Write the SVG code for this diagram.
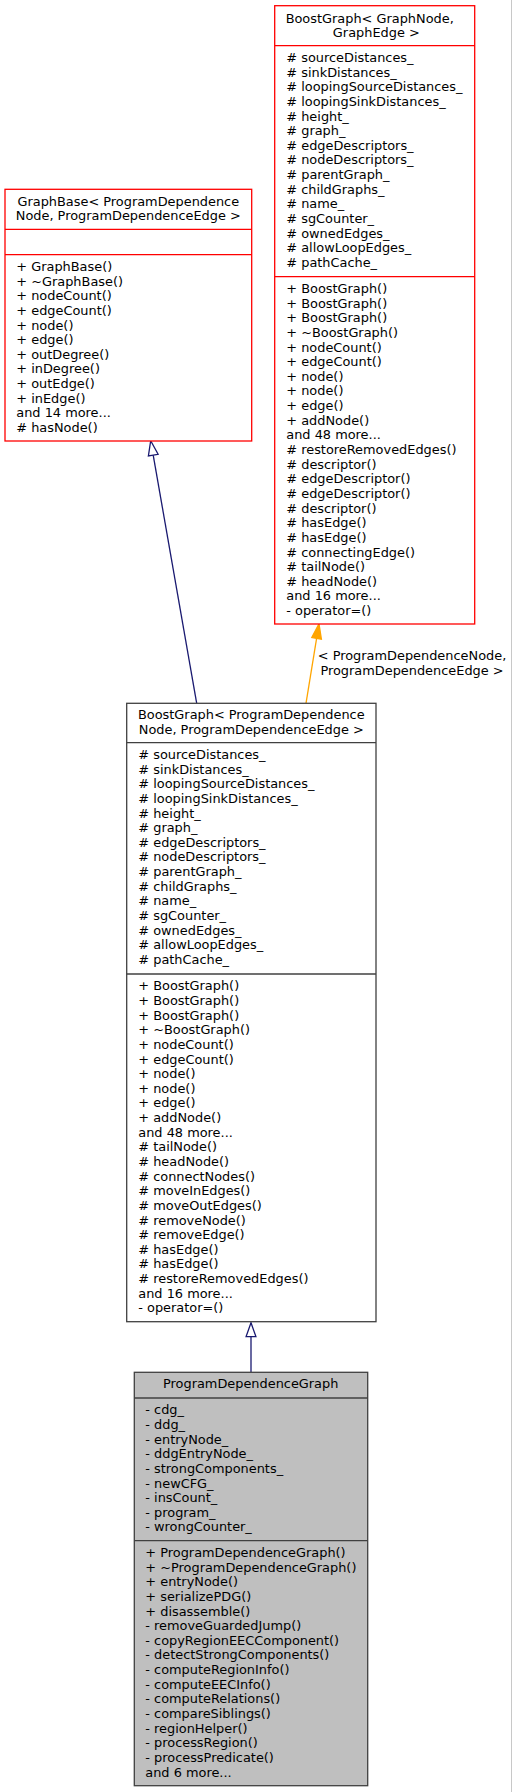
<svg xmlns="http://www.w3.org/2000/svg" width="513" height="1792" viewBox="0 0 513 1792">
<style>
text{font-family:"DejaVu Sans","Liberation Sans",sans-serif;font-size:12.9px;fill:#000}
.c{text-anchor:middle}
.red{fill:#fff;stroke:#ff0000;stroke-width:1.3}
.blk{fill:#fff;stroke:#404040;stroke-width:1.3}
.gry{fill:#bfbfbf;stroke:#404040;stroke-width:1.3}
.dr{stroke:#ff0000;stroke-width:1.3}
.dk{stroke:#404040;stroke-width:1.3}
.blue{fill:none;stroke:#191970;stroke-width:1.3}
.orange{fill:none;stroke:#ffa500;stroke-width:1.3}
</style>
<rect x="0" y="0" width="513" height="1792" fill="#fff"/>
<line x1="511.5" y1="0" x2="511.5" y2="1792" stroke="#c8c8c8" stroke-width="1"/>

<g id="connectors">
<path class="blue" d="M196.7,703.3 L153.2,455.1"/>
<polygon points="150.7,440.7 158.1,454.3 148.4,456" fill="#fff" stroke="#191970" stroke-width="1.3"/>
<path class="orange" d="M306,703.3 L316.6,638.4"/>
<polygon points="319,623.8 321.4,639.2 311.8,637.6" fill="#ffa500" stroke="#ffa500" stroke-width="1.3"/>
<text class="c" x="412" y="660">&lt; ProgramDependenceNode,</text>
<text class="c" x="412" y="674.6">ProgramDependenceEdge &gt;</text>
<path class="blue" d="M251,1372.3 L251,1336.6"/>
<polygon points="251,1322.7 255.9,1336.6 246.1,1336.6" fill="#fff" stroke="#191970" stroke-width="1.3"/>
</g>

<g id="node-graphbase">
<rect class="red" x="5" y="189.3" width="246.7" height="251.7"/>
<line class="dr" x1="5" y1="229.3" x2="251.7" y2="229.3"/>
<line class="dr" x1="5" y1="254.7" x2="251.7" y2="254.7"/>
<text class="c" x="128.3" y="205.7">GraphBase&lt; ProgramDependence</text>
<text class="c" x="128.3" y="220.3">Node, ProgramDependenceEdge &gt;</text>
<text x="16.3" y="271"><tspan x="16.3">+ GraphBase()</tspan><tspan x="16.3" dy="14.64">+ ~GraphBase()</tspan><tspan x="16.3" dy="14.64">+ nodeCount()</tspan><tspan x="16.3" dy="14.64">+ edgeCount()</tspan><tspan x="16.3" dy="14.64">+ node()</tspan><tspan x="16.3" dy="14.64">+ edge()</tspan><tspan x="16.3" dy="14.64">+ outDegree()</tspan><tspan x="16.3" dy="14.64">+ inDegree()</tspan><tspan x="16.3" dy="14.64">+ outEdge()</tspan><tspan x="16.3" dy="14.64">+ inEdge()</tspan><tspan x="16.3" dy="14.64">and 14 more...</tspan><tspan x="16.3" dy="14.64"># hasNode()</tspan></text>
</g>

<g id="node-boostgraph-graphnode">
<rect class="red" x="274.7" y="5.7" width="200" height="618.3"/>
<line class="dr" x1="274.7" y1="45.7" x2="474.7" y2="45.7"/>
<line class="dr" x1="274.7" y1="276.7" x2="474.7" y2="276.7"/>
<text class="c" x="369.7" y="22.5">BoostGraph&lt; GraphNode,</text>
<text class="c" x="376.3" y="37.1">GraphEdge &gt;</text>
<text x="286.3" y="62"><tspan x="286.3"># sourceDistances_</tspan><tspan x="286.3" dy="14.64"># sinkDistances_</tspan><tspan x="286.3" dy="14.64"># loopingSourceDistances_</tspan><tspan x="286.3" dy="14.64"># loopingSinkDistances_</tspan><tspan x="286.3" dy="14.64"># height_</tspan><tspan x="286.3" dy="14.64"># graph_</tspan><tspan x="286.3" dy="14.64"># edgeDescriptors_</tspan><tspan x="286.3" dy="14.64"># nodeDescriptors_</tspan><tspan x="286.3" dy="14.64"># parentGraph_</tspan><tspan x="286.3" dy="14.64"># childGraphs_</tspan><tspan x="286.3" dy="14.64"># name_</tspan><tspan x="286.3" dy="14.64"># sgCounter_</tspan><tspan x="286.3" dy="14.64"># ownedEdges_</tspan><tspan x="286.3" dy="14.64"># allowLoopEdges_</tspan><tspan x="286.3" dy="14.64"># pathCache_</tspan></text>
<text x="286.3" y="293"><tspan x="286.3">+ BoostGraph()</tspan><tspan x="286.3" dy="14.64">+ BoostGraph()</tspan><tspan x="286.3" dy="14.64">+ BoostGraph()</tspan><tspan x="286.3" dy="14.64">+ ~BoostGraph()</tspan><tspan x="286.3" dy="14.64">+ nodeCount()</tspan><tspan x="286.3" dy="14.64">+ edgeCount()</tspan><tspan x="286.3" dy="14.64">+ node()</tspan><tspan x="286.3" dy="14.64">+ node()</tspan><tspan x="286.3" dy="14.64">+ edge()</tspan><tspan x="286.3" dy="14.64">+ addNode()</tspan><tspan x="286.3" dy="14.64">and 48 more...</tspan><tspan x="286.3" dy="14.64"># restoreRemovedEdges()</tspan><tspan x="286.3" dy="14.64"># descriptor()</tspan><tspan x="286.3" dy="14.64"># edgeDescriptor()</tspan><tspan x="286.3" dy="14.64"># edgeDescriptor()</tspan><tspan x="286.3" dy="14.64"># descriptor()</tspan><tspan x="286.3" dy="14.64"># hasEdge()</tspan><tspan x="286.3" dy="14.64"># hasEdge()</tspan><tspan x="286.3" dy="14.64"># connectingEdge()</tspan><tspan x="286.3" dy="14.64"># tailNode()</tspan><tspan x="286.3" dy="14.64"># headNode()</tspan><tspan x="286.3" dy="14.64">and 16 more...</tspan><tspan x="286.3" dy="14.64">- operator=()</tspan></text>
</g>

<g id="node-boostgraph-pdg">
<rect class="blk" x="126.7" y="703.3" width="249.3" height="618.4"/>
<line class="dk" x1="126.7" y1="742.7" x2="376" y2="742.7"/>
<line class="dk" x1="126.7" y1="974" x2="376" y2="974"/>
<text class="c" x="251.3" y="719.3">BoostGraph&lt; ProgramDependence</text>
<text class="c" x="251.3" y="733.9">Node, ProgramDependenceEdge &gt;</text>
<text x="138.3" y="759"><tspan x="138.3"># sourceDistances_</tspan><tspan x="138.3" dy="14.64"># sinkDistances_</tspan><tspan x="138.3" dy="14.64"># loopingSourceDistances_</tspan><tspan x="138.3" dy="14.64"># loopingSinkDistances_</tspan><tspan x="138.3" dy="14.64"># height_</tspan><tspan x="138.3" dy="14.64"># graph_</tspan><tspan x="138.3" dy="14.64"># edgeDescriptors_</tspan><tspan x="138.3" dy="14.64"># nodeDescriptors_</tspan><tspan x="138.3" dy="14.64"># parentGraph_</tspan><tspan x="138.3" dy="14.64"># childGraphs_</tspan><tspan x="138.3" dy="14.64"># name_</tspan><tspan x="138.3" dy="14.64"># sgCounter_</tspan><tspan x="138.3" dy="14.64"># ownedEdges_</tspan><tspan x="138.3" dy="14.64"># allowLoopEdges_</tspan><tspan x="138.3" dy="14.64"># pathCache_</tspan></text>
<text x="138.3" y="990.3"><tspan x="138.3">+ BoostGraph()</tspan><tspan x="138.3" dy="14.64">+ BoostGraph()</tspan><tspan x="138.3" dy="14.64">+ BoostGraph()</tspan><tspan x="138.3" dy="14.64">+ ~BoostGraph()</tspan><tspan x="138.3" dy="14.64">+ nodeCount()</tspan><tspan x="138.3" dy="14.64">+ edgeCount()</tspan><tspan x="138.3" dy="14.64">+ node()</tspan><tspan x="138.3" dy="14.64">+ node()</tspan><tspan x="138.3" dy="14.64">+ edge()</tspan><tspan x="138.3" dy="14.64">+ addNode()</tspan><tspan x="138.3" dy="14.64">and 48 more...</tspan><tspan x="138.3" dy="14.64"># tailNode()</tspan><tspan x="138.3" dy="14.64"># headNode()</tspan><tspan x="138.3" dy="14.64"># connectNodes()</tspan><tspan x="138.3" dy="14.64"># moveInEdges()</tspan><tspan x="138.3" dy="14.64"># moveOutEdges()</tspan><tspan x="138.3" dy="14.64"># removeNode()</tspan><tspan x="138.3" dy="14.64"># removeEdge()</tspan><tspan x="138.3" dy="14.64"># hasEdge()</tspan><tspan x="138.3" dy="14.64"># hasEdge()</tspan><tspan x="138.3" dy="14.64"># restoreRemovedEdges()</tspan><tspan x="138.3" dy="14.64">and 16 more...</tspan><tspan x="138.3" dy="14.64">- operator=()</tspan></text>
</g>

<g id="node-pdg">
<rect class="gry" x="134.3" y="1372.3" width="233.4" height="413.4"/>
<line class="dk" x1="134.3" y1="1398" x2="367.7" y2="1398"/>
<line class="dk" x1="134.3" y1="1540.7" x2="367.7" y2="1540.7"/>
<text class="c" x="250.7" y="1388.3">ProgramDependenceGraph</text>
<text x="145.3" y="1414.3"><tspan x="145.3">- cdg_</tspan><tspan x="145.3" dy="14.64">- ddg_</tspan><tspan x="145.3" dy="14.64">- entryNode_</tspan><tspan x="145.3" dy="14.64">- ddgEntryNode_</tspan><tspan x="145.3" dy="14.64">- strongComponents_</tspan><tspan x="145.3" dy="14.64">- newCFG_</tspan><tspan x="145.3" dy="14.64">- insCount_</tspan><tspan x="145.3" dy="14.64">- program_</tspan><tspan x="145.3" dy="14.64">- wrongCounter_</tspan></text>
<text x="145.3" y="1557"><tspan x="145.3">+ ProgramDependenceGraph()</tspan><tspan x="145.3" dy="14.64">+ ~ProgramDependenceGraph()</tspan><tspan x="145.3" dy="14.64">+ entryNode()</tspan><tspan x="145.3" dy="14.64">+ serializePDG()</tspan><tspan x="145.3" dy="14.64">+ disassemble()</tspan><tspan x="145.3" dy="14.64">- removeGuardedJump()</tspan><tspan x="145.3" dy="14.64">- copyRegionEECComponent()</tspan><tspan x="145.3" dy="14.64">- detectStrongComponents()</tspan><tspan x="145.3" dy="14.64">- computeRegionInfo()</tspan><tspan x="145.3" dy="14.64">- computeEECInfo()</tspan><tspan x="145.3" dy="14.64">- computeRelations()</tspan><tspan x="145.3" dy="14.64">- compareSiblings()</tspan><tspan x="145.3" dy="14.64">- regionHelper()</tspan><tspan x="145.3" dy="14.64">- processRegion()</tspan><tspan x="145.3" dy="14.64">- processPredicate()</tspan><tspan x="145.3" dy="14.64">and 6 more...</tspan></text>
</g>
</svg>
